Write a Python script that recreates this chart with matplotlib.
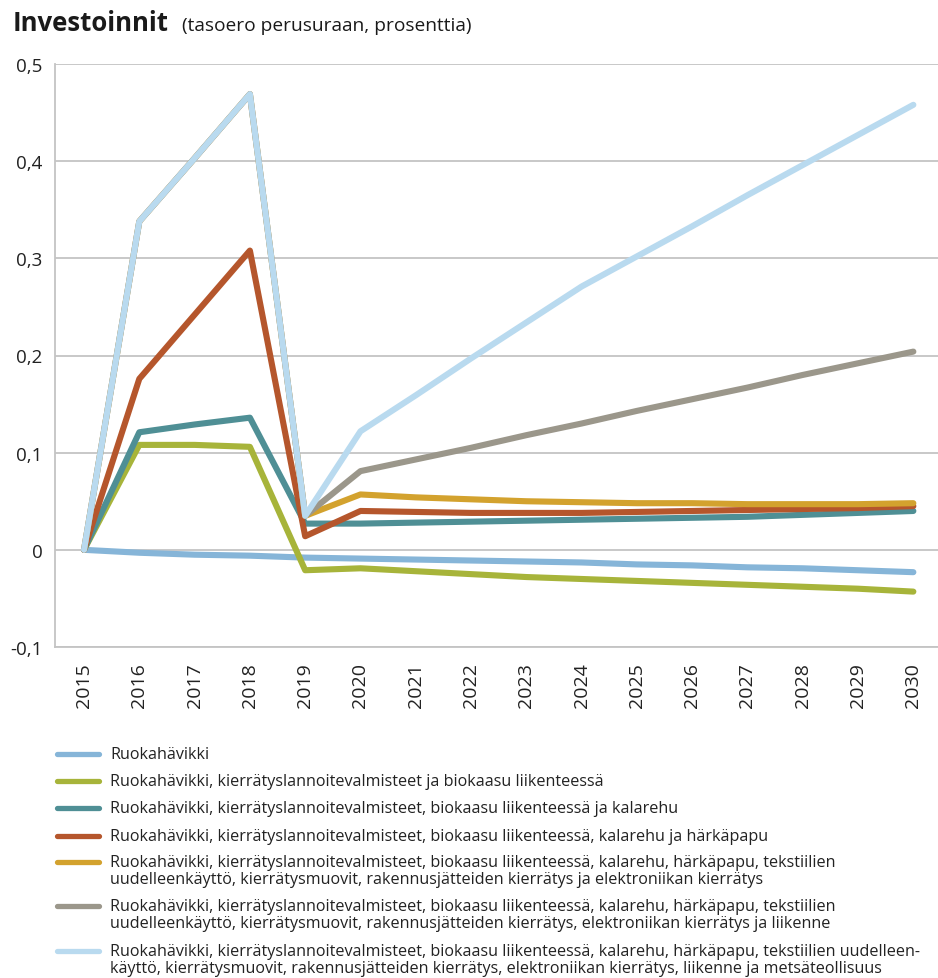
import matplotlib
matplotlib.use("Agg")
import matplotlib.pyplot as plt
from matplotlib.lines import Line2D

plt.rcParams['font.family'] = ['Open Sans', 'DejaVu Sans']

years = [str(y) for y in range(2015, 2031)]

ruokahavikki = [0, -0.003, -0.005, -0.006, -0.008, -0.009, -0.010, -0.011,
                -0.012, -0.013, -0.015, -0.016, -0.018, -0.019, -0.021, -0.023]
biokaasu = [0, 0.108, 0.108, 0.106, -0.021, -0.019, -0.022, -0.025,
            -0.028, -0.030, -0.032, -0.034, -0.036, -0.038, -0.040, -0.043]
kalarehu = [0, 0.121, 0.129, 0.136, 0.027, 0.027, 0.028, 0.029,
            0.030, 0.031, 0.032, 0.033, 0.034, 0.036, 0.038, 0.040]
harkapapu = [0, 0.176, 0.242, 0.308, 0.014, 0.040, 0.039, 0.038,
             0.038, 0.038, 0.039, 0.040, 0.041, 0.042, 0.043, 0.045]
elektroniikka = [0, 0.338, 0.403, 0.469, 0.035, 0.057, 0.054, 0.052,
                 0.050, 0.049, 0.048, 0.048, 0.047, 0.047, 0.047, 0.048]
liikenne = [0, 0.338, 0.403, 0.469, 0.035, 0.081, 0.093, 0.105,
            0.118, 0.130, 0.143, 0.155, 0.167, 0.180, 0.192, 0.204]
metsateollisuus = [0, 0.338, 0.403, 0.469, 0.035, 0.122, 0.159, 0.197,
                   0.234, 0.271, 0.302, 0.333, 0.365, 0.396, 0.427, 0.458]

series = [ruokahavikki, biokaasu, kalarehu, harkapapu,
          elektroniikka, liikenne, metsateollisuus]

labels = [
    "Ruokahävikki",
    "Ruokahävikki, kierrätyslannoitevalmisteet ja biokaasu liikenteessä",
    "Ruokahävikki, kierrätyslannoitevalmisteet, biokaasu liikenteessä ja kalarehu",
    "Ruokahävikki, kierrätyslannoitevalmisteet, biokaasu liikenteessä, kalarehu ja härkäpapu",
    "Ruokahävikki, kierrätyslannoitevalmisteet, biokaasu liikenteessä, kalarehu, härkäpapu, tekstiilien\n"
    "uudelleenkäyttö, kierrätysmuovit, rakennusjätteiden kierrätys ja elektroniikan kierrätys",
    "Ruokahävikki, kierrätyslannoitevalmisteet, biokaasu liikenteessä, kalarehu, härkäpapu, tekstiilien\n"
    "uudelleenkäyttö, kierrätysmuovit, rakennusjätteiden kierrätys, elektroniikan kierrätys ja liikenne",
    "Ruokahävikki, kierrätyslannoitevalmisteet, biokaasu liikenteessä, kalarehu, härkäpapu, tekstiilien uudelleen-\n"
    "käyttö, kierrätysmuovit, rakennusjätteiden kierrätys, elektroniikan kierrätys, liikenne ja metsäteollisuus",
]

colors = ["#86b5d8", "#a7b43a", "#4f8f95", "#b5562c",
          "#d3a22e", "#9b978b", "#b9daef"]

y_ticks = [-0.1, 0, 0.1, 0.2, 0.3, 0.4, 0.5]
y_ticklabels = ["-0,1", "0", "0,1", "0,2", "0,3", "0,4", "0,5"]

W, H = 938, 979
fig = plt.figure(figsize=(W / 100, H / 100), dpi=100)
ax = fig.add_axes([55 / W, 1 - 648 / H, (941 - 55) / W, (648 - 65) / H])

x = list(range(len(years)))
for vals, col in zip(series, colors):
    ax.plot(x, vals, color=col, lw=4.4, solid_joinstyle='round',
            solid_capstyle='round', zorder=3)

ax.set_xlim(-0.525, len(years) - 0.5)
ax.set_ylim(-0.1, 0.5)
ax.set_yticks(y_ticks)
ax.set_yticklabels(y_ticklabels, fontsize=13.5, color="#222222")
ax.set_xticks(x)
ax.set_xticklabels(years, rotation=90, fontsize=14, color="#222222")
ax.tick_params(axis='both', length=0)
ax.tick_params(axis='y', pad=9)
ax.tick_params(axis='x', pad=11)

ax.grid(axis='y', color="#c4c4c4", lw=1.3, zorder=1)
for s in ['top', 'right']:
    ax.spines[s].set_visible(False)
for s in ['left', 'bottom']:
    ax.spines[s].set_color("#c4c4c4")
    ax.spines[s].set_linewidth(1.3)

fig.text(13 / W, 1 - 31 / H, "Investoinnit", fontsize=18.5, fontweight='bold',
         color="#1a1a1a", va='baseline', ha='left')
fig.text(182 / W, 1 - 31 / H, "(tasoero perusuraan, prosenttia)", fontsize=13.8,
         color="#1a1a1a", va='baseline', ha='left')

# legend drawn row by row so swatches line up with the first text line
row_y = [755, 782, 809, 837, 863, 907, 952]
line_h = 17.5
for lab, col, y in zip(labels, colors, row_y):
    fy = 1 - y / H
    fig.add_artist(Line2D([57 / W, 99 / W], [fy, fy], transform=fig.transFigure,
                          color=col, lw=3.8, solid_capstyle='round'))
    for i, row in enumerate(lab.split("\n")):
        fig.text(110 / W, 1 - (y + i * line_h) / H, row, fontsize=11.6,
                 color="#222222", va='center', ha='left')

fig.savefig("out.png", dpi=100, facecolor="white")
